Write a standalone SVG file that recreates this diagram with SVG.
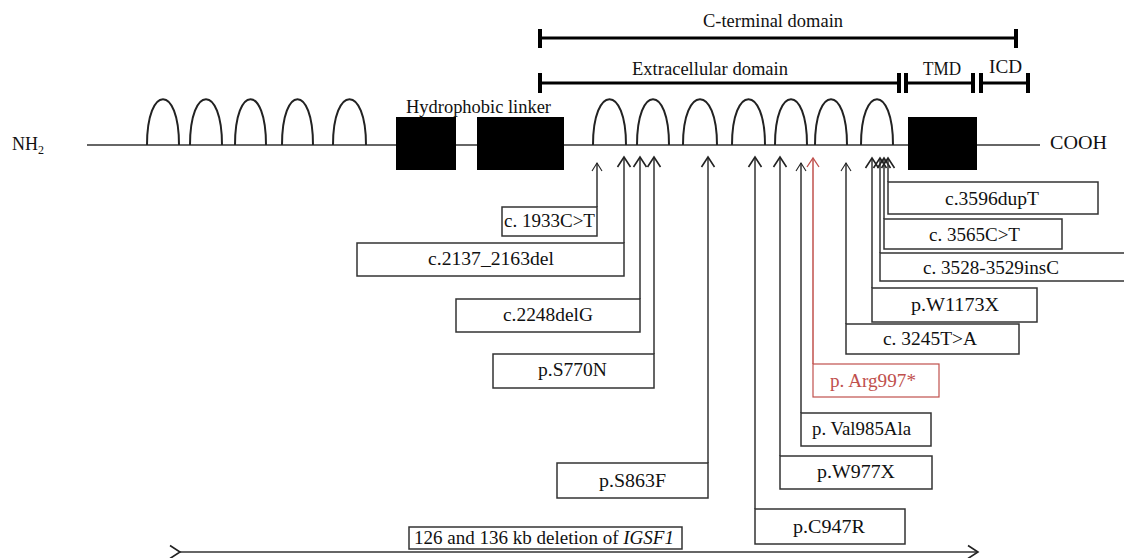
<svg xmlns="http://www.w3.org/2000/svg" width="1124" height="558" viewBox="0 0 1124 558">
<style>
.t{font-family:"Liberation Serif","Times New Roman",serif;font-size:18px;fill:#111}
.red{fill:#c0504d}
.loop{fill:none;stroke:#222;stroke-width:2}
.bb{fill:none;stroke:#333;stroke-width:1.5}
.blk{fill:#000}
.bar{stroke:#000;stroke-width:3;fill:none}
.tick{stroke:#000;stroke-width:4}
.box{fill:#fff;stroke:#333;stroke-width:1.5}
.boxr{fill:#fff;stroke:#c0504d;stroke-width:1.2}
.ln{fill:none;stroke:#333;stroke-width:1.5}
.lnr{fill:none;stroke:#c0504d;stroke-width:1.5}
</style>
<defs>
<marker id="ah" markerUnits="userSpaceOnUse" viewBox="-12 -8 14 16" refX="0" refY="0" markerWidth="14" markerHeight="16" orient="auto">
<path d="M-10,-6.5 L0,0 L-10,6.5" fill="none" stroke="#222" stroke-width="1.6"/>
</marker>
<marker id="ahs" markerUnits="userSpaceOnUse" viewBox="-12 -8 14 16" refX="0" refY="0" markerWidth="14" markerHeight="16" orient="auto">
<path d="M-8,-5 L0,0 L-8,5" fill="none" stroke="#222" stroke-width="1.1"/>
</marker>
<marker id="ahr" markerUnits="userSpaceOnUse" viewBox="-12 -8 14 16" refX="0" refY="0" markerWidth="14" markerHeight="16" orient="auto">
<path d="M-9,-6 L0,0 L-9,6" fill="none" stroke="#c0504d" stroke-width="1.3"/>
</marker>
</defs>
<rect width="1124" height="558" fill="#fff"/>

<g id="protein">
<line class="bb" x1="87" y1="145" x2="1040" y2="145"/>
<path class="loop" d="M147,145 C147,84 179,84 179,145 M190,145 C190,84 222,84 222,145 M235,145 C235,84 266,84 266,145 M282,145 C282,84 313,84 313,145 M333,145 C333,84 366,84 366,145"/>
<path class="loop" d="M593,145 C593,84 626,84 626,145 M637,145 C637,84 669,84 669,145 M683,145 C683,84 717,84 717,145 M732,145 C732,84 765,84 765,145 M775,145 C775,84 807,84 807,145 M815,145 C815,84 847,84 847,145 M861,145 C861,84 893,84 893,145"/>
<rect class="blk" x="396" y="117" width="60" height="53"/>
<rect class="blk" x="477" y="117" width="87" height="53"/>
<rect class="blk" x="908" y="117" width="69" height="53"/>
<text class="t" x="12" y="150" textLength="26" lengthAdjust="spacingAndGlyphs">NH</text>
<text class="t" x="38" y="154" style="font-size:12px">2</text>
<text class="t" x="1050" y="149" textLength="57" lengthAdjust="spacingAndGlyphs">COOH</text>
<text class="t" x="406" y="113" textLength="145" lengthAdjust="spacingAndGlyphs">Hydrophobic linker</text>
</g>

<g id="domains">
<line class="bar" x1="540" y1="38" x2="1016" y2="38"/>
<line class="tick" x1="540" y1="29" x2="540" y2="48"/>
<line class="tick" x1="1016" y1="29" x2="1016" y2="48"/>
<text class="t" x="703" y="27" textLength="140" lengthAdjust="spacingAndGlyphs">C-terminal domain</text>
<line class="bar" x1="540" y1="83" x2="898" y2="83"/>
<line class="tick" x1="540" y1="73" x2="540" y2="93"/>
<line class="tick" x1="899" y1="73" x2="899" y2="93"/>
<text class="t" x="632" y="75" textLength="156" lengthAdjust="spacingAndGlyphs">Extracellular domain</text>
<line class="bar" x1="906" y1="83" x2="973" y2="83"/>
<line class="tick" x1="906" y1="73" x2="906" y2="93"/>
<line class="tick" x1="973" y1="73" x2="973" y2="93"/>
<text class="t" x="923" y="75" textLength="38" lengthAdjust="spacingAndGlyphs">TMD</text>
<line class="bar" x1="981" y1="83" x2="1028" y2="83"/>
<line class="tick" x1="981" y1="73" x2="981" y2="93"/>
<line class="tick" x1="1028" y1="73" x2="1028" y2="93"/>
<text class="t" x="989" y="73" textLength="33" lengthAdjust="spacingAndGlyphs">ICD</text>
</g>

<g id="connectors">
<line class="ln" x1="597" y1="207" x2="597" y2="163" marker-end="url(#ahs)"/>
<line class="ln" x1="624" y1="243" x2="624" y2="157" marker-end="url(#ah)"/>
<line class="ln" x1="640" y1="299" x2="640" y2="157" marker-end="url(#ah)"/>
<line class="ln" x1="654" y1="354" x2="654" y2="157" marker-end="url(#ah)"/>
<line class="ln" x1="708" y1="463" x2="708" y2="157" marker-end="url(#ah)"/>
<line class="ln" x1="755" y1="509" x2="755" y2="157" marker-end="url(#ah)"/>
<line class="ln" x1="780" y1="456" x2="780" y2="157" marker-end="url(#ah)"/>
<line class="ln" x1="801" y1="413" x2="801" y2="163" marker-end="url(#ahs)"/>
<line class="lnr" x1="813" y1="364" x2="813" y2="158" marker-end="url(#ahr)"/>
<line class="ln" x1="846" y1="324" x2="846" y2="163" marker-end="url(#ahs)"/>
<line class="ln" x1="872" y1="288" x2="872" y2="158" marker-end="url(#ah)"/>
<line class="ln" x1="880" y1="253" x2="880" y2="158" marker-end="url(#ah)"/>
<line class="ln" x1="884" y1="219" x2="884" y2="158" marker-end="url(#ah)"/>
<line class="ln" x1="888" y1="182" x2="888" y2="158" marker-end="url(#ah)"/>
<line class="ln" x1="180" y1="552" x2="978" y2="552" marker-end="url(#ah)" marker-start="url(#ah)"/>
</g>

<g id="n-c1933"><rect class="box" x="502" y="207" width="95" height="29"/><text class="t" x="504" y="227" textLength="91" lengthAdjust="spacingAndGlyphs">c. 1933C&gt;T</text></g>
<g id="n-c2137"><rect class="box" x="357" y="243" width="267" height="33"/><text class="t" x="428" y="265" textLength="126" lengthAdjust="spacingAndGlyphs">c.2137_2163del</text></g>
<g id="n-c2248"><rect class="box" x="456" y="299" width="184" height="33"/><text class="t" x="503" y="321" textLength="90" lengthAdjust="spacingAndGlyphs">c.2248delG</text></g>
<g id="n-S770N"><rect class="box" x="493" y="354" width="161" height="34"/><text class="t" x="538" y="376" textLength="69" lengthAdjust="spacingAndGlyphs">p.S770N</text></g>
<g id="n-S863F"><rect class="box" x="557" y="463" width="151" height="35"/><text class="t" x="599" y="487" textLength="67" lengthAdjust="spacingAndGlyphs">p.S863F</text></g>
<g id="n-C947R"><rect class="box" x="755" y="509" width="150" height="35"/><text class="t" x="793" y="533" textLength="72" lengthAdjust="spacingAndGlyphs">p.C947R</text></g>
<g id="n-W977X"><rect class="box" x="780" y="456" width="152" height="33"/><text class="t" x="817" y="478" textLength="78" lengthAdjust="spacingAndGlyphs">p.W977X</text></g>
<g id="n-Val985Ala"><rect class="box" x="801" y="413" width="130" height="33"/><text class="t" x="812" y="435" textLength="99" lengthAdjust="spacingAndGlyphs">p. Val985Ala</text></g>
<g id="n-Arg997"><rect class="boxr" x="813" y="364" width="126" height="33"/><text class="t red" x="830" y="387" textLength="86" lengthAdjust="spacingAndGlyphs">p. Arg997*</text></g>
<g id="n-c3245"><rect class="box" x="846" y="324" width="173" height="30"/><text class="t" x="883" y="345" textLength="94" lengthAdjust="spacingAndGlyphs">c. 3245T&gt;A</text></g>
<g id="n-W1173X"><rect class="box" x="872" y="288" width="165" height="34"/><text class="t" x="911" y="311" textLength="88" lengthAdjust="spacingAndGlyphs">p.W1173X</text></g>
<g id="n-c3528"><rect class="box" x="880" y="253" width="260" height="28"/><text class="t" x="923" y="274" textLength="136" lengthAdjust="spacingAndGlyphs">c. 3528-3529insC</text></g>
<g id="n-c3565"><rect class="box" x="884" y="219" width="178" height="30"/><text class="t" x="929" y="241" textLength="91" lengthAdjust="spacingAndGlyphs">c. 3565C&gt;T</text></g>
<g id="n-c3596"><rect class="box" x="888" y="182" width="210" height="32"/><text class="t" x="945" y="205" textLength="94" lengthAdjust="spacingAndGlyphs">c.3596dupT</text></g>
<g id="n-deletion"><rect class="box" x="409" y="527" width="273" height="22"/><text class="t" x="414" y="544" textLength="260" lengthAdjust="spacingAndGlyphs">126 and 136 kb deletion of <tspan font-style="italic">IGSF1</tspan></text></g>
</svg>
